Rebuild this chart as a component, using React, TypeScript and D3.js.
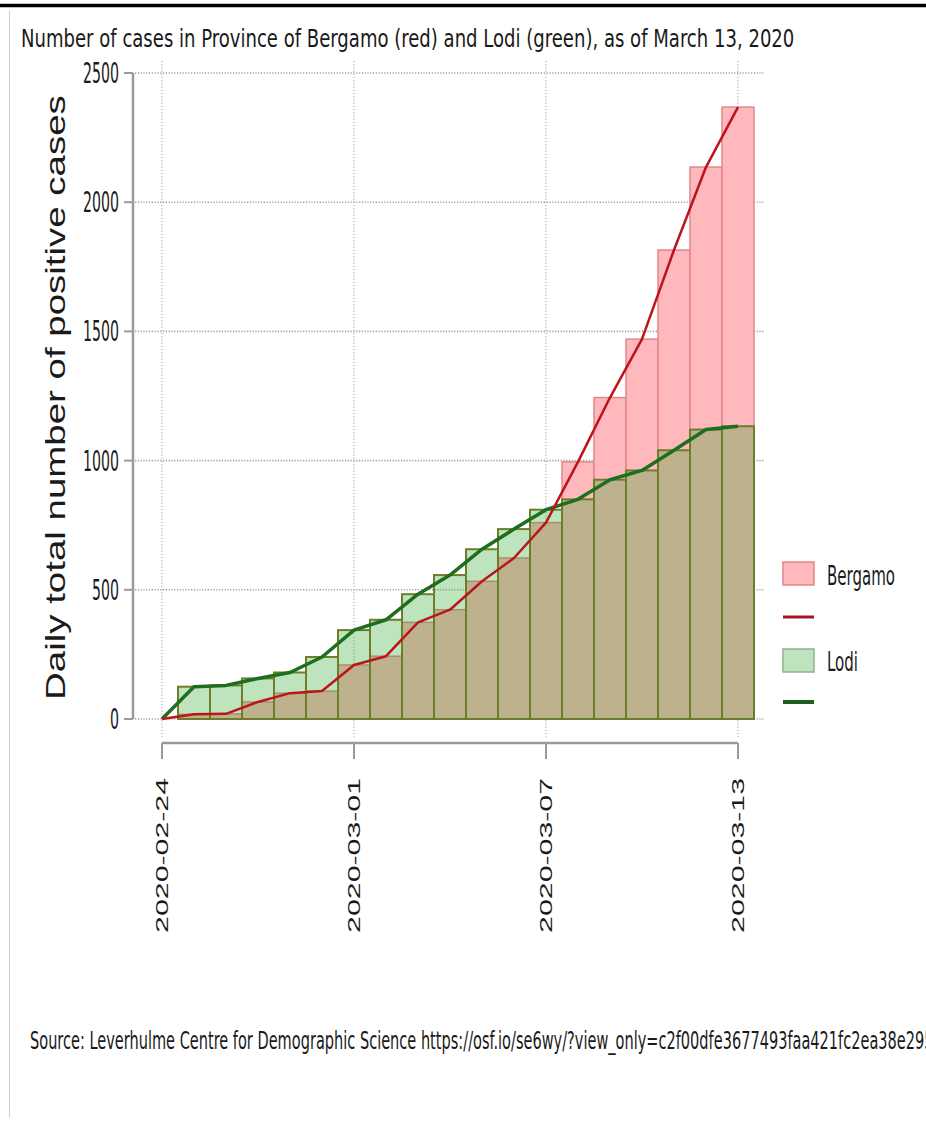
import React, { useEffect, useRef } from 'react';
import * as d3 from 'd3';

const dates = [
   '2020-02-24', '2020-02-25', '2020-02-26', '2020-02-27', '2020-02-28', '2020-02-29',
   '2020-03-01', '2020-03-02', '2020-03-03', '2020-03-04', '2020-03-05', '2020-03-06',
   '2020-03-07', '2020-03-08', '2020-03-09', '2020-03-10', '2020-03-11', '2020-03-12',
   '2020-03-13',
];
const bergamo = [0, 18, 20, 66, 100, 108, 209, 243, 374, 423, 533, 623, 760, 995, 1244, 1470, 1815, 2136, 2368];
const lodi = [0, 125, 130, 157, 180, 240, 344, 384, 483, 557, 657, 735, 810, 850, 926, 962, 1040, 1120, 1133];
const yTicks = [0, 500, 1000, 1500, 2000, 2500];
const xTicks = ['2020-02-24', '2020-03-01', '2020-03-07', '2020-03-13'];

const title = 'Number of cases in Province of Bergamo (red) and Lodi (green), as of March 13, 2020';
const yTitle = 'Daily total number of positive cases';
const sourceText = 'Source: Leverhulme Centre for Demographic Science https://osf.io/se6wy/?view_only=c2f00dfe3677493faa421fc2ea38e295';

const W = 926;
const H = 1121;
const narrow = '"Liberation Sans Narrow", "DejaVu Sans Condensed", sans-serif';
const sans = '"Liberation Sans", Arial, sans-serif';

type TextSel = d3.Selection<SVGTextElement, any, any, any>;

// squeeze a text to a given width with a transform, so its box stays true
const fit = (t: TextSel, x: number, y: number, width: number, rotate = 0) => {
   t.each(function () {
      const w = this.getComputedTextLength() || width;
      d3.select(this).attr('transform', `translate(${x},${y}) rotate(${rotate}) scale(${width / w},1)`);
   });
};

const App: React.FC = () => {
   const svgRef = useRef<SVGSVGElement | null>(null);

   useEffect(() => {
      if (!svgRef.current) return;
      const svg = d3.select(svgRef.current);
      svg.selectAll('*').remove();

      const parse = d3.utcParse('%Y-%m-%d');
      const rows = dates.map((d, i) => ({ date: parse(d)!, bergamo: bergamo[i], lodi: lodi[i] }));

      const x = d3.scaleUtc()
         .domain([parse(dates[0])!, parse(dates[dates.length - 1])!])
         .range([162, 738]);
      const y = d3.scaleLinear().domain([0, 2500]).range([719, 73]);
      const half = (x(rows[1].date) - x(rows[0].date)) / 2;

      svg.append('rect').attr('width', W).attr('height', H).attr('fill', 'white');

      // frame bits from the screenshot
      svg.append('line').attr('x1', 0).attr('x2', W).attr('y1', 5.5).attr('y2', 5.5)
         .attr('stroke', '#000').attr('stroke-width', 3.5);
      svg.append('line').attr('x1', 9.5).attr('x2', 9.5).attr('y1', 10).attr('y2', 1118)
         .attr('stroke', '#cfcfcf').attr('stroke-width', 1);

      // grid
      svg.append('g').selectAll('line').data(yTicks).enter().append('line')
         .attr('x1', 135).attr('x2', 765)
         .attr('y1', d => y(d)).attr('y2', d => y(d))
         .attr('stroke', '#a0a0a0').attr('stroke-width', 1.6)
         .attr('stroke-dasharray', '1.2,1.6');
      svg.append('g').selectAll('line').data(xTicks).enter().append('line')
         .attr('x1', d => x(parse(d)!)).attr('x2', d => x(parse(d)!))
         .attr('y1', 61).attr('y2', 737)
         .attr('stroke', '#a0a0a0').attr('stroke-width', 1.2)
         .attr('stroke-dasharray', '1,2.2');

      // bars
      svg.append('g').selectAll('rect').data(rows.filter(d => d.bergamo > 0)).enter().append('rect')
         .attr('x', d => x(d.date) - half)
         .attr('y', d => y(d.bergamo))
         .attr('width', half * 2)
         .attr('height', d => y(0) - y(d.bergamo))
         .attr('fill', '#ffb8bb')
         .attr('stroke', '#e0868c')
         .attr('stroke-width', 1.5);
      svg.append('g').selectAll('rect').data(rows.filter(d => d.lodi > 0)).enter().append('rect')
         .attr('x', d => x(d.date) - half)
         .attr('y', d => y(d.lodi))
         .attr('width', half * 2)
         .attr('height', d => y(0) - y(d.lodi))
         .attr('fill', 'rgba(40,165,40,0.3)')
         .attr('stroke', '#6e7d2c')
         .attr('stroke-width', 2);

      // lines
      const lodiLine = d3.line<typeof rows[number]>().x(d => x(d.date)).y(d => y(d.lodi));
      const bergLine = d3.line<typeof rows[number]>().x(d => x(d.date)).y(d => y(d.bergamo));
      svg.append('path').datum(rows).attr('d', lodiLine)
         .attr('fill', 'none').attr('stroke', '#1d6e1d').attr('stroke-width', 3.5)
         .attr('stroke-linejoin', 'round');
      svg.append('path').datum(rows).attr('d', bergLine)
         .attr('fill', 'none').attr('stroke', '#bb141a').attr('stroke-width', 2.5)
         .attr('stroke-linejoin', 'round');

      // y axis
      const yAxis = svg.append('g');
      yAxis.append('line').attr('x1', 133).attr('x2', 133).attr('y1', y(2500)).attr('y2', y(0))
         .attr('stroke', '#9a9a9a').attr('stroke-width', 2.5);
      const yt = yAxis.selectAll('g.tick').data(yTicks).enter().append('g').attr('class', 'tick');
      yt.append('line').attr('x1', 124).attr('x2', 133)
         .attr('y1', d => y(d)).attr('y2', d => y(d))
         .attr('stroke', '#9a9a9a').attr('stroke-width', 2);
      yt.append('text')
         .attr('dy', '0.36em')
         .attr('text-anchor', 'end')
         .attr('font-family', narrow).attr('font-size', 28).attr('fill', '#1a1a1a')
         .text(d => d)
         .each(function (d) {
            fit(d3.select(this) as TextSel, 119, y(d), String(d).length * 9);
         });
      fit(svg.append('text')
         .attr('font-family', sans).attr('font-size', 27).attr('fill', '#1a1a1a')
         .text(yTitle), 65, 700, 605, -90);

      // x axis
      const xAxis = svg.append('g');
      xAxis.append('line').attr('x1', x(parse(xTicks[0])!)).attr('x2', x(parse(xTicks[3])!))
         .attr('y1', 743).attr('y2', 743)
         .attr('stroke', '#9a9a9a').attr('stroke-width', 2.5);
      const xt = xAxis.selectAll('g.tick').data(xTicks).enter().append('g').attr('class', 'tick');
      xt.append('line').attr('x1', d => x(parse(d)!)).attr('x2', d => x(parse(d)!))
         .attr('y1', 743).attr('y2', 759)
         .attr('stroke', '#9a9a9a').attr('stroke-width', 2);
      xt.append('text')
         .attr('text-anchor', 'end')
         .attr('font-family', sans).attr('font-size', 17).attr('fill', '#1a1a1a')
         .text(d => d)
         .each(function (d) {
            fit(d3.select(this) as TextSel, x(parse(d)!) + 6, 778, 155, -90);
         });

      // title
      fit(svg.append('text')
         .attr('font-family', narrow).attr('font-size', 24).attr('fill', '#1a1a1a')
         .text(title), 21, 47, 774);

      // legend
      const lg = svg.append('g');
      lg.append('rect').attr('x', 783).attr('y', 562).attr('width', 31).attr('height', 23)
         .attr('fill', '#ffb8bb').attr('stroke', '#e0868c').attr('stroke-width', 1.5);
      lg.append('line').attr('x1', 783).attr('x2', 814).attr('y1', 617).attr('y2', 617)
         .attr('stroke', '#a8141e').attr('stroke-width', 3);
      lg.append('rect').attr('x', 783).attr('y', 649).attr('width', 31).attr('height', 23)
         .attr('fill', 'rgba(40,165,40,0.3)').attr('stroke', '#8fb08f').attr('stroke-width', 1.5);
      lg.append('line').attr('x1', 783).attr('x2', 814).attr('y1', 702).attr('y2', 702)
         .attr('stroke', '#1d5e1d').attr('stroke-width', 4);
      fit(lg.append('text')
         .attr('font-family', narrow).attr('font-size', 26).attr('fill', '#1a1a1a')
         .text('Bergamo'), 827, 585, 68);
      fit(lg.append('text')
         .attr('font-family', narrow).attr('font-size', 26).attr('fill', '#1a1a1a')
         .text('Lodi'), 827, 671, 31);

      // source (runs past the right edge, as in the screenshot)
      fit(svg.append('text')
         .attr('font-family', narrow).attr('font-size', 24).attr('fill', '#1a1a1a')
         .text(sourceText), 30, 1049, 904);
   }, []);

   return (
      <svg
         ref={svgRef}
         width={W}
         height={H}
         viewBox={`0 0 ${W} ${H}`}
         style={{ position: 'absolute', left: 0, top: 0, display: 'block' }}
      />
   );
};

export default App;
